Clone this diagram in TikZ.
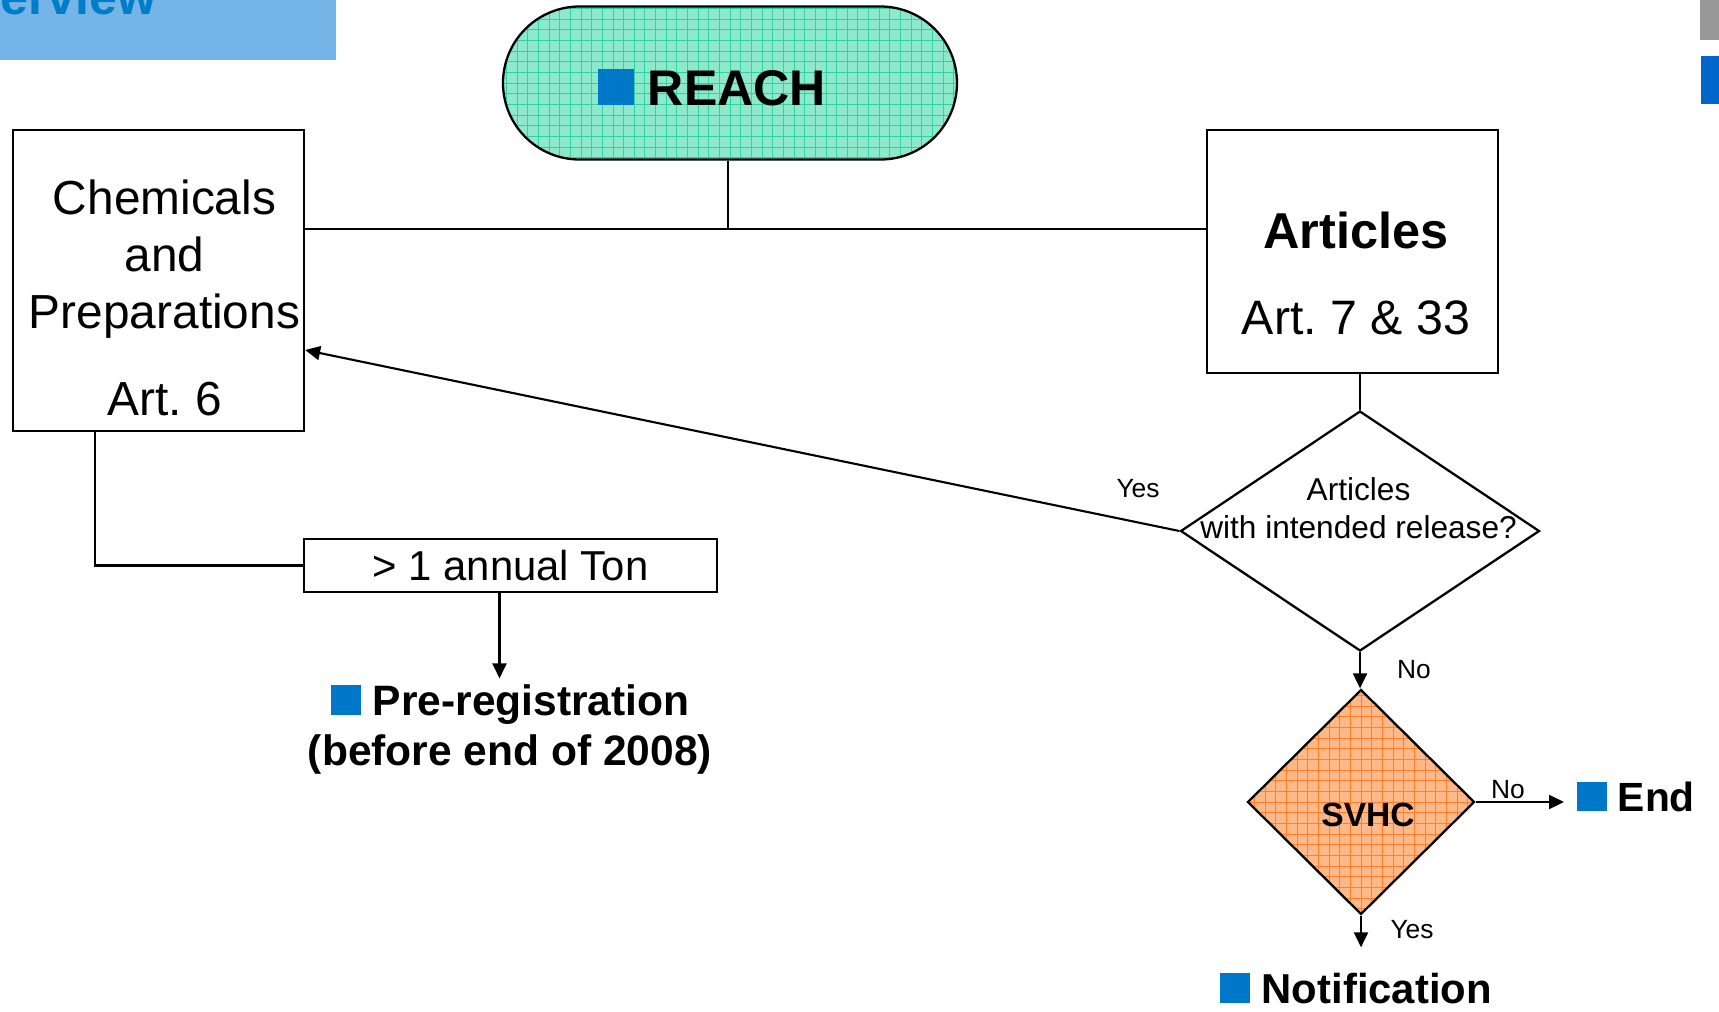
\documentclass[tikz,border=0pt]{standalone}
\usepackage{fontspec}
\setmainfont{Liberation Sans}
\usetikzlibrary{shapes.geometric,arrows.meta}
\definecolor{TitleBar}{HTML}{74B4E6}
\definecolor{TitleText}{HTML}{007DC8}
\definecolor{Mark}{HTML}{0077C8}
\definecolor{ReachFill}{HTML}{8EE8CC}
\definecolor{ReachGrid}{HTML}{2FD3A2}
\definecolor{SvhcFill}{HTML}{FFB888}
\definecolor{SvhcGrid}{HTML}{FF7F2A}
\definecolor{SideGrey}{HTML}{999999}
\definecolor{SideBlue}{HTML}{0066CC}
\newcommand{\mk}{\textcolor{Mark}{\rule{0.716em}{0.716em}}}

\tikzset{
  box/.style={draw, line width=1.3pt, inner sep=0pt},
  decision/.style={draw, diamond, line width=1.3pt, inner sep=0pt},
  conn/.style={line width=1.2pt},
  arr/.style={line width=1.2pt, -{Triangle[length=0.3cm, width=0.28cm]}},
  lbl/.style={anchor=base, inner sep=0pt, font=\fontsize{15}{18}\selectfont},
  gridfill/.style 2 args={fill=#1, path picture={\draw[#2, line width=0.4pt, step=0.213cm] (path picture bounding box.south west) grid (path picture bounding box.north east);}},
}

\begin{document}
\begin{tikzpicture}
\useasboundingbox (0,0) rectangle (34.38,-20.22);%
% title bar and side marks
\fill[TitleBar] (0,0) rectangle (6.72,-1.20);%
\node[anchor=base west, inner sep=0pt, text=TitleText, font=\fontsize{28.5}{34}\selectfont\bfseries] (title) at (0,-0.28) {erview};%
\fill[SideGrey] (34.00,0) rectangle (34.38,-0.80);%
\fill[SideBlue] (34.02,-1.12) rectangle (34.38,-2.08);%
% REACH
\node[box, gridfill={ReachFill}{ReachGrid}, rounded corners=1.53cm, minimum width=9.08cm, minimum height=3.06cm] (reach) at (14.60,-1.66) {};%
\node[anchor=base, inner sep=0pt, font=\fontsize{28.5}{34}\selectfont\bfseries] (reachtxt) at (14.24,-2.10) {\mk~REACH};%
\coordinate (hub) at (14.56,-4.58);%
% left and right boxes
\node[box, minimum width=5.82cm, minimum height=6.02cm] (chem) at (3.17,-5.61) {};%
\node[align=center, inner sep=0pt, font=\fontsize{27.2}{32.4}\selectfont] (chemtxt) at (3.29,-5.96) {Chemicals\\and\\Preparations\\[17pt]Art.\ 6};%
\node[box, minimum width=5.82cm, minimum height=4.86cm] (art) at (27.05,-5.03) {};%
\node[align=center, inner sep=0pt, font=\fontsize{27.5}{32.4}\selectfont] (arttxt) at (27.12,-5.47) {{\fontsize{28.7}{32.4}\selectfont\bfseries Articles}\\[17pt]Art.\ 7 \& 33};%
% decisions
\node[decision, minimum width=7.18cm, minimum height=4.80cm] (q1) at (27.20,-10.62) {};%
\node[align=center, inner sep=0pt, font=\fontsize{18}{21.6}\selectfont] (q1txt) at (27.17,-10.17) {Articles\\with intended release?};%
\node[decision, gridfill={SvhcFill}{SvhcGrid}, minimum width=4.54cm, minimum height=4.50cm] (svhc) at (27.22,-16.04) {};%
\node[anchor=base, inner sep=0pt, font=\fontsize{19.1}{23}\selectfont\bfseries] (svhctxt) at (27.36,-16.52) {SVHC};%
% tonnage and results
\node[box, minimum width=8.26cm, minimum height=1.06cm, font=\fontsize{23.8}{28}\selectfont] (ton) at (10.21,-11.31) {> 1 annual Ton};%
\node[align=center, font=\fontsize{24.2}{28.5}\selectfont\bfseries] (pre) at (10.20,-14.59) {\mk~Pre-registration\\(before end of 2008)};%
\node[anchor=base west, inner sep=0.26cm, font=\fontsize{23.2}{28}\selectfont\bfseries] (end) at (31.28,-16.22) {\mk~End};%
\node[anchor=base, inner sep=0.26cm, font=\fontsize{23.8}{28}\selectfont\bfseries] (notif) at (27.12,-20.06) {\mk~Notification};%
% labels
\node[lbl] (yes1) at (22.76,-9.95) {Yes};%
\node[lbl] (no1) at (28.28,-13.56) {No};%
\node[lbl] (no2) at (30.16,-15.96) {No};%
\node[lbl] (yes2) at (28.24,-18.76) {Yes};%
% connectors
\draw[conn] (reach.south -| hub) -- (hub);%
\draw[conn] (chem.east |- hub) -- (art.west |- hub);%
\draw[conn] (art.south -| q1.north) -- (q1.north);%
\draw[arr] (q1.west) -- (chem.east |- 0,-7.00);%
\draw[arr] (q1.south) -- (q1.south |- svhc.north);%
\draw[arr] (svhc.east) -- (svhc.east -| end.west);%
\draw[arr, shorten >=0.24cm] (svhc.south) -- (svhc.south |- notif.north);%
\draw[conn] (chem.south west) ++(1.66,0) |- (ton.west);%
\draw[arr] ([xshift=-0.22cm]ton.south) -- ([xshift=-0.22cm]ton.south |- pre.north);%
\end{tikzpicture}
\end{document}
